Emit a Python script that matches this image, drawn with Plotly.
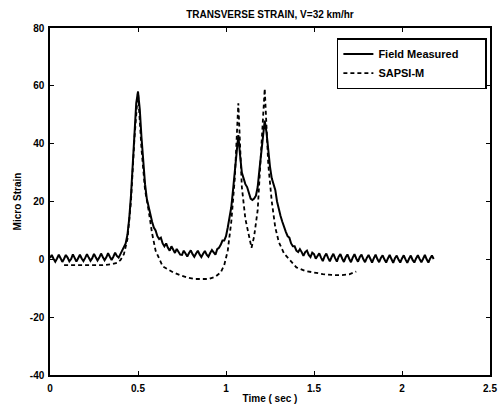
import numpy as np
import plotly.graph_objects as go

# ---- data ----
field_t0 = 0.0
field_dt = 0.01
field_values = [
    0.5, 1.5, 0.2, -0.8, 0.3, 1.6, 0.4, -0.9, 0.2, 1.5,
    0.6, -0.7, 0.1, 1.7, 0.5, -0.8, 0.4, 1.6, 0.3, -0.6,
    0.5, 1.8, 0.6, -0.5, 0.4, 1.9, 0.7, -0.4, 0.6, 2.0,
    0.8, -0.3, 0.7, 2.1, 0.9, -0.2, 0.9, 2.3, 1.2, 0.6,
    1.8, 3.2, 4.0, 5.5, 8.5, 14, 22, 33, 44, 54,
    58, 52, 42, 33, 26, 21, 18, 16, 13, 11,
    10, 8, 7, 7.5, 5.5, 4.5, 5.5, 4.0, 3.0, 4.5,
    3.5, 2.2, 3.6, 2.8, 1.6, 1.5, 3.0, 2.0, 1.0, 2.2,
    3.1, 1.8, 0.9, 2.0, 3.0, 1.7, 0.8, 1.9, 2.9, 1.6,
    0.9, 2.2, 3.2, 2.4, 1.6, 3.5, 4.0, 5.0, 6.5, 6.5,
    8, 11, 14, 18, 24, 30, 38, 43, 36, 30,
    28, 26, 25, 23, 21, 20.5, 21, 22, 25, 31,
    37, 44, 48, 44, 37, 32, 28, 26, 24, 20,
    17, 15, 13, 11, 9.5, 8, 7.5, 5.5, 4.5, 4.5,
    3.0, 2.5, 3.5, 2.5, 1.2, 2.5, 3.0, 1.5, 0.8, 2.3,
    1.8, 0.2, 1.2, 2.1, 0.6, -0.6, 1.0, 2.0, 0.5, -0.7,
    0.8, 1.9, 0.4, -0.8, 0.9, 1.8, 0.3, -0.9, 0.7, 1.7,
    0.2, -1.0, 0.6, 1.8, 0.3, -0.8, 0.8, 1.6, 0.1, -1.0,
    0.5, 1.5, 0.2, -1.1, 0.4, 1.6, 0.1, -1.0, 0.5, 1.4,
    0.0, -1.1, 0.3, 1.5, 0.1, -1.2, 0.4, 1.3, -0.1, -1.1,
    0.3, 1.4, 0.0, -1.2, 0.2, 1.3, -0.2, -1.1, 0.3, 1.4,
    0.1, -1.0, 0.2, 1.5, 0.0, -1.1, 0.3, 1.3, 0.1,
]

sapsi_t = [0.08, 0.12, 0.16, 0.20, 0.25, 0.30, 0.35, 0.38, 0.40, 0.42,
           0.44, 0.46, 0.48, 0.50, 0.52, 0.54, 0.56, 0.58, 0.60, 0.62,
           0.64, 0.67, 0.70, 0.74, 0.78, 0.82, 0.86, 0.90, 0.94, 0.97,
           0.99, 1.01, 1.03, 1.05, 1.07, 1.09, 1.11, 1.13, 1.145, 1.16,
           1.18, 1.20, 1.22, 1.24, 1.26, 1.28, 1.30, 1.33, 1.36, 1.40,
           1.45, 1.50, 1.55, 1.60, 1.65, 1.70, 1.74]
sapsi_values = [-2, -2, -2, -2, -2, -2, -1.7, -1.2, -0.3, 1.8,
                7, 20, 42, 58, 38, 24, 17, 9, 3, 0,
                -2.4, -3.5, -4.5, -5.5, -6.3, -6.8, -6.9, -6.8, -6.0, -4.5,
                -2.0, 3, 13, 28, 54, 25, 14, 8, 4, 8,
                17, 38, 59, 33, 20, 11, 6, 2, 0, -2.8,
                -4.0, -4.6, -5.1, -5.4, -5.5, -5.2, -4.2]

x_ticks = [0, 0.5, 1, 1.5, 2, 2.5]
x_tick_labels = ["0", "0.5", "1", "1.5", "2", "2.5"]
y_ticks = [-40, -20, 0, 20, 40, 60, 80]
y_tick_labels = ["-40", "-20", "0", "20", "40", "60", "80"]

field_t = np.round(field_t0 + field_dt * np.arange(len(field_values)), 3)

font_family = "Liberation Sans, Arial, sans-serif"
pad = "&nbsp;" * 7

fig = go.Figure()
fig.add_trace(go.Scatter(x=field_t, y=field_values, mode="lines", name="Field Measured" + pad,
                         line=dict(color="black", width=2)))
fig.add_trace(go.Scatter(x=sapsi_t, y=sapsi_values, mode="lines", name="SAPSI-M",
                         line=dict(color="black", width=1.8, dash="4px,3px")))

axis_common = dict(showline=True, linecolor="black", linewidth=1.5, mirror="ticks",
                   ticks="inside", ticklen=4, tickcolor="black", showgrid=False,
                   zeroline=False, automargin=False,
                   tickfont=dict(family=font_family, size=10, color="black", weight="bold"))

fig.update_xaxes(range=[0, 2.5], tickvals=x_ticks, ticktext=x_tick_labels,
                 ticklabelstandoff=3,
                 title=dict(text="Time ( sec )", standoff=2,
                            font=dict(family=font_family, size=10, color="black", weight="bold")),
                 **axis_common)
fig.update_yaxes(range=[-40, 80], tickvals=y_ticks, ticktext=y_tick_labels,
                 ticklabelstandoff=2,
                 title=dict(text="Micro Strain", standoff=6,
                            font=dict(family=font_family, size=10, color="black", weight="bold")),
                 **axis_common)

fig.update_layout(
    width=500, height=405,
    margin=dict(l=50, r=10, t=28, b=30),
    paper_bgcolor="white", plot_bgcolor="white",
    title=dict(text="TRANSVERSE STRAIN, V=32 km/hr", x=0.54, xanchor="center", y=0.963, yanchor="middle",
               font=dict(family=font_family, size=10, color="black", weight="bold")),
    legend=dict(x=0.652, y=0.971, xanchor="left", yanchor="top",
                bgcolor="white", bordercolor="black", borderwidth=1.5,
                font=dict(family=font_family, size=11, color="black", weight="bold"),
                itemwidth=30, tracegroupgap=0),
    showlegend=True,
)

fig.write_html("out.html")
